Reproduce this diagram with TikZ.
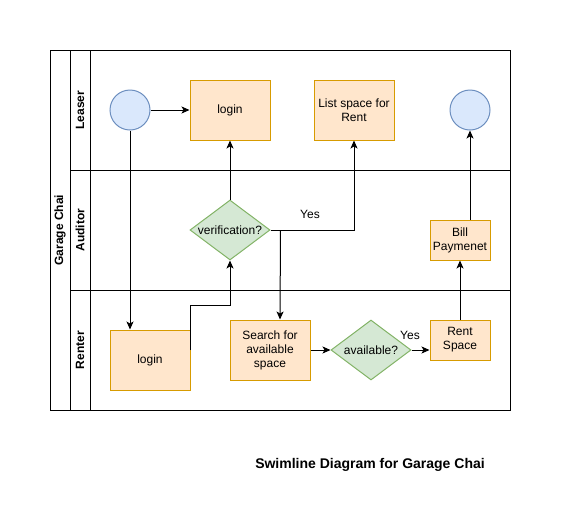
\documentclass[tikz,border=0pt]{standalone}
\usepackage{fontspec}
\setmainfont{Liberation Sans}
\usetikzlibrary{shapes.geometric,arrows.meta}

\definecolor{boxfill}{HTML}{FFE6CC}
\definecolor{boxline}{HTML}{D79B00}
\definecolor{diafill}{HTML}{D5E8D4}
\definecolor{dialine}{HTML}{82B366}
\definecolor{endfill}{HTML}{DAE8FC}
\definecolor{endline}{HTML}{6C8EBF}

\begin{document}
\begin{tikzpicture}[x=1pt, y=-1pt, line width=1pt, font=\fontsize{12}{14}\selectfont,
    stepbox/.style={draw=boxline, fill=boxfill, minimum width=80pt, minimum height=60pt, align=center, inner sep=2pt},
    smallbox/.style={stepbox, minimum width=60pt, minimum height=40pt},
    choice/.style={diamond, draw=dialine, fill=diafill, minimum width=80pt, minimum height=60pt, inner sep=0pt},
    terminal/.style={circle, draw=endline, fill=endfill, minimum size=40pt, inner sep=0pt},
    flow/.style={-{Stealth[length=8pt,width=7pt,inset=2pt]}},
    lanename/.style={rotate=90, font=\fontsize{12}{14}\selectfont\bfseries}]
                \useasboundingbox (0, 0) rectangle (561, 531);

                % pool and lanes
                \draw (50, 50) rectangle (510, 410);
                \draw (70, 50) -- (70, 410);
                \draw (90, 50) -- (90, 410);
                \draw (70, 170) -- (510, 170);
                \draw (70, 290) -- (510, 290);

                \node[lanename] (pool) at (60, 230) {Garage Chai};
                \node[lanename] (leaser) at (80, 110) {Leaser};
                \node[lanename] (auditor) at (80, 230) {Auditor};
                \node[lanename] (renter) at (80, 350) {Renter};

                % steps
                \node[terminal] (start) at (130, 110) {};
                \node[stepbox] (llogin) at (230, 110) {login};
                \node[stepbox] (list) at (354, 110) {List space for\\Rent};
                \node[terminal] (stop) at (470, 110) {};

                \node[choice, label=center:{verification?}] (verify) at (230, 230) {};
                \node[smallbox] (bill) at (460, 240) {Bill\\Paymenet};

                \node[stepbox] (rlogin) at (150, 360) {login};
                \node[stepbox] (search) at (270, 350) {Search for\\available\\space};
                \node[choice, label=center:{available?}] (avail) at (371, 350) {};
                \node[smallbox] (rent) at (460, 340) {Rent\\Space};

                \coordinate (bend) at (230, 305);

                % connectors
                \draw[flow] (start) -- (llogin);
                \draw[flow] (start.south) -- (start.south |- rlogin.north);
                \draw[flow] ([yshift=10pt]rlogin.east) |- (bend) -- (verify.south);
                \draw[flow] (verify) -- (llogin);
                \draw[flow] (verify.east) -| (list.south);
                \draw[flow] ([xshift=10pt]verify.east) -- ([xshift=10pt]search.north);
                \draw[flow] (search) -- (avail);
                \draw[flow] (avail.east) -- (avail.east -| rent.west);
                \draw[flow] (rent) -- (bill);
                \draw[flow] ([xshift=10pt]bill.north) -- (stop.south);

                \node (yes1) at (310, 214) {Yes};
                \node (yes2) at (410, 335) {Yes};

                \node[font=\fontsize{14}{16}\selectfont\bfseries] (title) at (370, 465) {Swimline Diagram for Garage Chai};
            \end{tikzpicture}
\end{document}
